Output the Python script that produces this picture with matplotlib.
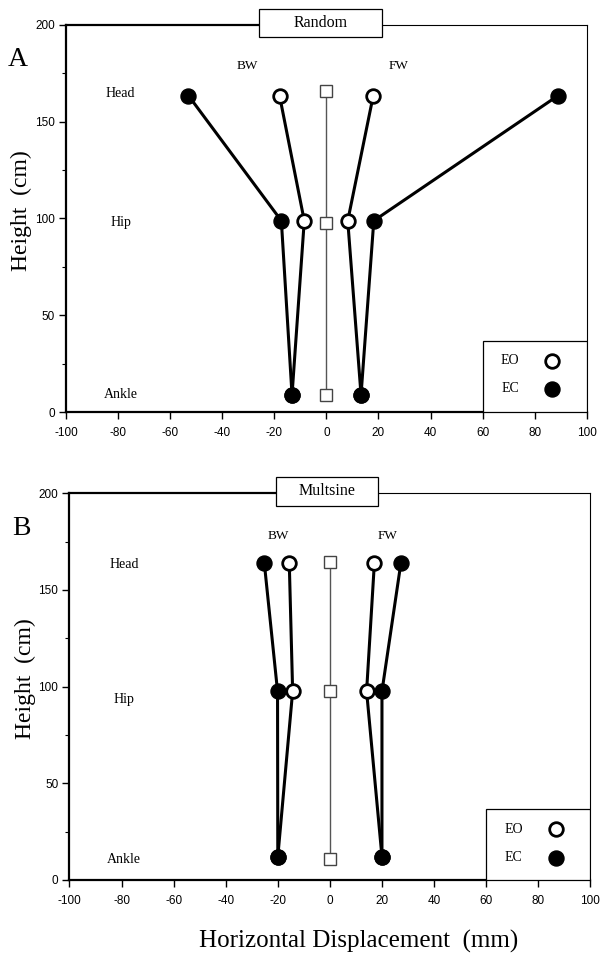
import matplotlib
matplotlib.use('Agg')
import matplotlib.pyplot as plt
from matplotlib.patches import Rectangle

plt.rcParams['axes.unicode_minus'] = False

# Data: head / hip / ankle positions (x in mm, y in cm)
levels = ['Head', 'Hip', 'Ankle']

# Panel A - Random
a_y = [163.5, 98.8, 8.8]
a_bw_eo = [-18.0, -8.5, -13.2]
a_bw_ec = [-53.0, -17.3, -13.2]
a_fw_eo = [18.0, 8.2, 13.3]
a_fw_ec = [89.0, 18.2, 13.3]
a_ref_y = [166.0, 97.7, 9.0]

# Panel B - Multsine
b_y = [164.2, 97.6, 12.0]
b_bw_eo = [-15.6, -14.3, -20.0]
b_bw_ec = [-25.2, -20.1, -20.0]
b_fw_eo = [17.1, 14.1, 20.0]
b_fw_ec = [27.3, 20.0, 20.0]
b_ref_y = [164.5, 97.6, 10.8]

xticks = list(range(-100, 101, 20))
yticks = [0, 50, 100, 150, 200]

SERIF = 'Liberation Serif'
SANS = 'Liberation Sans'

fig = plt.figure(figsize=(6, 9.56), dpi=100)


def panel(ax, y, bw_eo, bw_ec, fw_eo, fw_ec, ref_y, title, box, letter,
          label_y, bwfw_y, bwfw_x, legend_y):
    ax.set_xlim(-100, 100)
    ax.set_ylim(0, 200)
    # reference line with squares
    ax.plot([0] * len(ref_y), ref_y, color='#555555', lw=1.0, zorder=2)
    ax.plot([0] * len(ref_y), ref_y, ls='none', marker='s', ms=8.5,
            mfc='white', mec='#444444', mew=1.0, zorder=4)
    # lines
    for xs in (bw_eo, bw_ec, fw_eo, fw_ec):
        ax.plot(xs, y, color='black', lw=2.2, zorder=3)
    for xs in (bw_eo, fw_eo):
        ax.plot(xs, y, ls='none', marker='o', ms=9.8, mfc='white',
                mec='black', mew=2.0, zorder=5)
    for xs in (bw_ec, fw_ec):
        ax.plot(xs, y, ls='none', marker='o', ms=10.8, mfc='black',
                mec='black', zorder=6)

    # level labels
    for name, ly in zip(levels, label_y):
        ax.text(-79, ly, name, family=SERIF, fontsize=10, ha='center',
                va='center')
    ax.text(bwfw_x[0], bwfw_y, 'BW', family=SERIF, fontsize=9.5,
            ha='center', va='center')
    ax.text(bwfw_x[1], bwfw_y, 'FW', family=SERIF, fontsize=9.5,
            ha='center', va='center')

    # spines
    ax.spines['top'].set_visible(False)
    ax.spines['left'].set_linewidth(1.6)
    ax.spines['bottom'].set_linewidth(1.6)
    ax.spines['right'].set_linewidth(0.8)
    ax.plot([-100, box[0]], [200, 200], color='black', lw=1.6,
            clip_on=False, zorder=1)
    ax.plot([box[1], 100], [200, 200], color='black', lw=0.8,
            clip_on=False, zorder=1)

    # title box
    ax.add_patch(Rectangle((box[0], 193.6), box[1] - box[0], 14.6,
                           facecolor='white', edgecolor='black', lw=0.9,
                           clip_on=False, zorder=7))
    ax.text((box[0] + box[1]) / 2, 201, title, family=SERIF, fontsize=11.5,
            ha='center', va='center', zorder=8)

    # legend box
    ax.add_patch(Rectangle((60, 0), 40, 36.5, facecolor='white',
                           edgecolor='black', lw=0.9, zorder=7))
    ax.text(70.5, legend_y[0], 'EO', family=SERIF, fontsize=10,
            ha='center', va='center', zorder=8)
    ax.text(70.5, legend_y[1], 'EC', family=SERIF, fontsize=10,
            ha='center', va='center', zorder=8)
    ax.plot([86.7], [legend_y[0]], ls='none', marker='o', ms=9.8,
            mfc='white', mec='black', mew=2.0, zorder=8)
    ax.plot([86.7], [legend_y[1]], ls='none', marker='o', ms=10.8,
            mfc='black', mec='black', zorder=8)

    # ticks
    ax.set_xticks(xticks)
    ax.set_yticks(yticks)
    ax.set_yticks([25, 75, 125, 175], minor=True)
    ax.tick_params(axis='both', which='major', direction='out', length=5,
                   width=1.0, labelsize=8.5, pad=3)
    ax.tick_params(axis='y', which='minor', direction='out', length=3,
                   width=0.8)
    ax.tick_params(axis='x', pad=6)
    for lab in ax.get_xticklabels() + ax.get_yticklabels():
        lab.set_family(SANS)

    ax.text(-0.085, 0.52, 'Height  (cm)', family=SERIF, fontsize=17,
            rotation=90, ha='center', va='center', transform=ax.transAxes)
    ax.text(-0.092, 0.91, letter, family=SERIF, fontsize=20, ha='center',
            va='center', transform=ax.transAxes)


ax1 = fig.add_axes([0.11, 0.569, 0.868, 0.405])
panel(ax1, a_y, a_bw_eo, a_bw_ec, a_fw_eo, a_fw_ec, a_ref_y, 'Random',
      (-26.0, 21.3), 'A', [164.3, 97.7, 9.2], 178.8, (-30.5, 27.6),
      [26.5, 12.0])

ax2 = fig.add_axes([0.1158, 0.0795, 0.868, 0.4045])
panel(ax2, b_y, b_bw_eo, b_bw_ec, b_fw_eo, b_fw_ec, b_ref_y, 'Multsine',
      (-20.8, 18.5), 'B', [163.4, 93.1, 10.7], 177.9, (-19.7, 22.0),
      [26.2, 11.6])

fig.text(0.597, 0.015, 'Horizontal Displacement  (mm)', family=SERIF,
         fontsize=18, ha='center', va='center')

fig.savefig('out.png', dpi=100)
